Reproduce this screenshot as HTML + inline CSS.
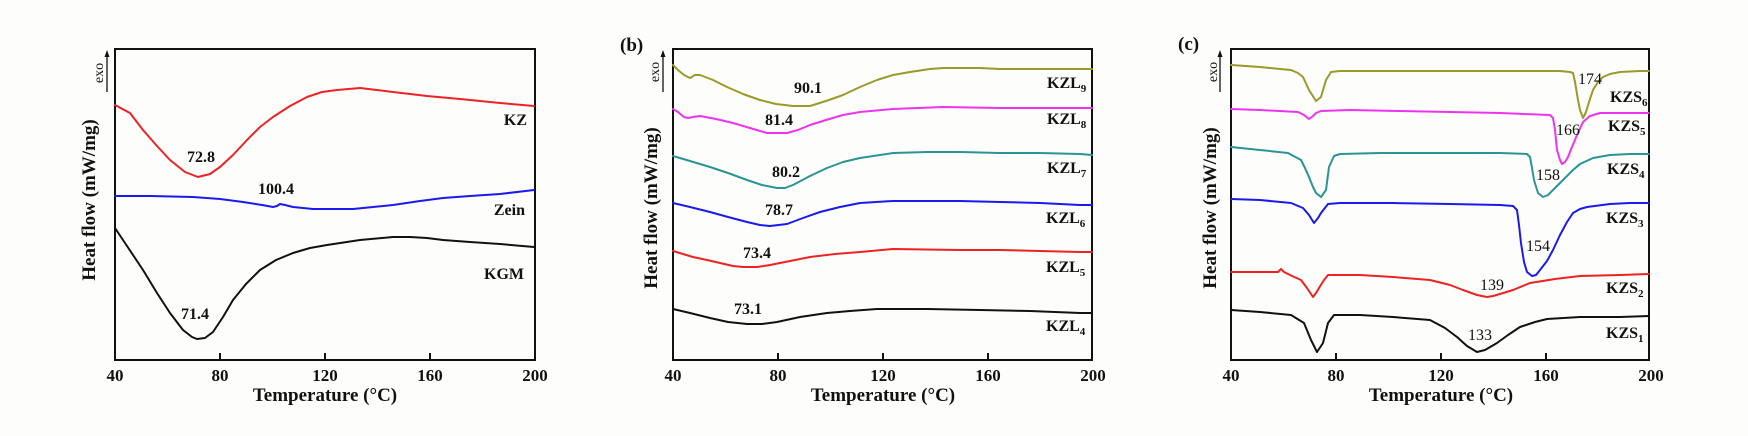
<!DOCTYPE html>
<html><head><meta charset="utf-8"><style>
html,body{margin:0;padding:0;background:#fdfdfc;}
svg{display:block;}
text{font-family:"Liberation Serif",serif;fill:#111;}
.b{font-weight:bold;}
.tk{font-size:17px;font-weight:bold;text-anchor:middle;}
.ax{font-size:19px;font-weight:bold;text-anchor:middle;}
.lb{font-size:16px;font-weight:bold;}
.nm{font-size:16px;font-weight:bold;text-anchor:middle;}
.nc{font-size:16px;text-anchor:middle;}
.exo{font-size:14px;text-anchor:middle;}
.c{fill:none;stroke-width:2;stroke-linejoin:round;stroke-linecap:round;}
.box{fill:none;stroke:#111;stroke-width:2;}
</style></head><body>
<svg width="1748" height="436" viewBox="0 0 1748 436" xmlns="http://www.w3.org/2000/svg">
<rect width="1748" height="436" fill="#fdfdfc"/>

<!-- ===== Panel a ===== -->
<rect class="box" x="115" y="49" width="420" height="311"/>
<g stroke="#111" stroke-width="2">
<line x1="220" y1="360" x2="220" y2="353"/><line x1="325" y1="360" x2="325" y2="353"/><line x1="430" y1="360" x2="430" y2="353"/>
</g>
<text class="tk" x="115" y="381">40</text><text class="tk" x="220" y="381">80</text><text class="tk" x="325" y="381">120</text><text class="tk" x="430" y="381">160</text><text class="tk" x="535" y="381">200</text>
<text class="ax" x="325" y="401">Temperature (°C)</text>
<text class="ax" transform="translate(95,200) rotate(-90)">Heat flow (mW/mg)</text>
<text class="exo" transform="translate(103,73) rotate(-90)">exo</text>
<line x1="107" y1="92" x2="107" y2="55" stroke="#111" stroke-width="1.3"/>
<polygon points="107,50 104.5,57 109.5,57" fill="#111"/>

<polyline class="c" stroke="#ee2222" points="115,105 130,113 143,130 157,146 170,160 185,172 198,177 210,174 220,167 233,155 247,140 260,127 273,117 290,106 307,97 322,92 337,90 360,88 377,90 393,92 427,96 460,99 500,103 534,106"/>
<polyline class="c" stroke="#1a1aee" points="115,196 150,196 193,197 220,199 243,202 262,205 273,207 277,206 280,204 285,205 293,207 313,209 353,209 373,207 393,205 420,201 443,198 470,196 500,194 534,190"/>
<polyline class="c" stroke="#111" points="115,228 129,249 143,270 157,293 170,313 183,330 192,337 197,339 205,338 213,332 223,317 233,300 246,284 260,270 276,260 293,253 310,248 327,245 360,240 393,237 410,237 427,238 443,240 470,242 500,244 534,247"/>
<text class="nm" x="201" y="162">72.8</text>
<text class="nm" x="276" y="194">100.4</text>
<text class="nm" x="195" y="319">71.4</text>
<text class="lb" x="527" y="125" text-anchor="end">KZ</text>
<text class="lb" x="525" y="215" text-anchor="end">Zein</text>
<text class="lb" x="524" y="279" text-anchor="end">KGM</text>

<!-- ===== Panel b ===== -->
<rect class="box" x="673" y="49" width="419" height="311"/>
<g stroke="#111" stroke-width="2">
<line x1="778" y1="360" x2="778" y2="353"/><line x1="883" y1="360" x2="883" y2="353"/><line x1="988" y1="360" x2="988" y2="353"/>
</g>
<text class="tk" x="673" y="381">40</text><text class="tk" x="778" y="381">80</text><text class="tk" x="883" y="381">120</text><text class="tk" x="988" y="381">160</text><text class="tk" x="1093" y="381">200</text>
<text class="ax" x="883" y="401">Temperature (°C)</text>
<text class="ax" transform="translate(657,208) rotate(-90)">Heat flow (mW/mg)</text>
<text class="exo" transform="translate(659,72) rotate(-90)">exo</text>
<line x1="663" y1="92" x2="663" y2="55" stroke="#111" stroke-width="1.3"/>
<polygon points="663,50 660.5,57 665.5,57" fill="#111"/>
<text class="b" x="620" y="51" font-size="19">(b)</text>

<polyline class="c" stroke="#9a9a2a" points="673,65 678,70 684,75 690,78 695,75 700,75 713,80 727,87 743,94 760,100 776,104 793,106 810,106 826,101 843,95 860,87 877,80 893,75 910,72 930,69 943,68 980,68 1000,69 1040,69 1080,69 1092,69"/>
<polyline class="c" stroke="#ee33ee" points="673,109 678,112 684,117 688,118 693,117 700,116 716,119 733,123 750,128 767,133 787,133 798,130 810,125 826,120 843,115 860,112 893,109 943,107 1000,108 1050,108 1092,108"/>
<polyline class="c" stroke="#2a9494" points="673,156 690,161 710,167 728,173 747,180 762,185 777,188 785,188 793,185 810,176 827,168 843,162 860,158 893,153 927,152 960,152 1000,153 1040,153 1080,154 1092,155"/>
<polyline class="c" stroke="#1a1aee" points="673,203 690,207 710,212 728,217 747,222 760,225 770,226 787,224 803,218 820,212 840,207 860,203 893,201 960,201 1000,202 1040,203 1080,205 1092,205"/>
<polyline class="c" stroke="#ee2222" points="673,251 683,254 693,257 707,260 720,263 733,266 743,267 757,267 770,265 790,261 810,257 835,254 860,252 893,249 960,250 1000,250 1040,251 1080,252 1092,252"/>
<polyline class="c" stroke="#111" points="673,309 690,313 710,318 728,322 747,324 762,324 777,322 800,317 827,313 850,311 877,309 927,309 980,310 1030,311 1080,313 1092,313"/>
<text class="nm" x="808" y="93">90.1</text>
<text class="nm" x="779" y="125">81.4</text>
<text class="nm" x="786" y="177">80.2</text>
<text class="nm" x="779" y="215">78.7</text>
<text class="nm" x="757" y="258">73.4</text>
<text class="nm" x="748" y="314">73.1</text>
<text class="lb" x="1047" y="88">KZL<tspan font-size="11" dy="4">9</tspan></text>
<text class="lb" x="1047" y="124">KZL<tspan font-size="11" dy="4">8</tspan></text>
<text class="lb" x="1047" y="173">KZL<tspan font-size="11" dy="4">7</tspan></text>
<text class="lb" x="1046" y="223">KZL<tspan font-size="11" dy="4">6</tspan></text>
<text class="lb" x="1046" y="272">KZL<tspan font-size="11" dy="4">5</tspan></text>
<text class="lb" x="1046" y="331">KZL<tspan font-size="11" dy="4">4</tspan></text>

<!-- ===== Panel c ===== -->
<rect class="box" x="1231" y="49" width="418" height="311"/>
<g stroke="#111" stroke-width="2">
<line x1="1336" y1="360" x2="1336" y2="353"/><line x1="1441" y1="360" x2="1441" y2="353"/><line x1="1546" y1="360" x2="1546" y2="353"/>
</g>
<text class="tk" x="1231" y="381">40</text><text class="tk" x="1336" y="381">80</text><text class="tk" x="1441" y="381">120</text><text class="tk" x="1546" y="381">160</text><text class="tk" x="1651" y="381">200</text>
<text class="ax" x="1441" y="401">Temperature (°C)</text>
<text class="ax" transform="translate(1216,208) rotate(-90)">Heat flow (mW/mg)</text>
<text class="exo" transform="translate(1217,72) rotate(-90)">exo</text>
<line x1="1220" y1="92" x2="1220" y2="55" stroke="#111" stroke-width="1.3"/>
<polygon points="1220,50 1217.5,57 1222.5,57" fill="#111"/>
<text class="b" x="1178" y="50" font-size="19">(c)</text>

<polyline class="c" stroke="#9a9a2a" points="1231,65 1260,67 1280,69 1291,70 1298,73 1303,77 1309,90 1316,101 1321,97 1326,80 1331,72 1340,71 1393,71 1450,71 1500,71 1540,71 1560,71 1570,72 1573,73 1575,82 1578,100 1580,110 1583,118 1586,112 1589,102 1593,90 1598,82 1603,77 1610,74 1620,72 1640,71 1649,71"/>
<polyline class="c" stroke="#ee33ee" points="1231,109 1260,110 1298,112 1304,115 1309,119 1313,116 1316,113 1321,111 1350,110 1400,111 1450,112 1500,113 1550,115 1553,118 1555,130 1557,150 1560,160 1562,164 1565,162 1568,157 1572,147 1577,135 1583,122 1590,116 1600,113 1620,113 1649,113"/>
<polyline class="c" stroke="#2a9494" points="1231,147 1260,150 1288,153 1301,160 1305,168 1309,177 1313,187 1316,193 1321,197 1326,190 1329,167 1334,156 1340,154 1381,153 1450,153 1500,153 1527,154 1530,157 1532,168 1534,180 1538,193 1543,197 1548,195 1553,190 1560,183 1567,176 1573,170 1580,164 1593,158 1610,155 1630,154 1649,154"/>
<polyline class="c" stroke="#1a1aee" points="1231,199 1260,200 1291,203 1303,208 1309,215 1314,223 1318,218 1321,213 1328,204 1340,203 1393,203 1450,204 1500,205 1513,206 1517,210 1519,225 1521,243 1524,262 1527,272 1532,276 1536,275 1540,270 1547,261 1553,250 1560,235 1567,222 1573,213 1580,209 1587,207 1610,204 1630,203 1649,203"/>
<polyline class="c" stroke="#ee2222" points="1231,272 1260,272 1278,272 1281,269 1284,272 1292,276 1301,280 1307,288 1313,297 1316,293 1319,288 1324,280 1328,275 1340,275 1360,275 1393,277 1430,280 1450,285 1463,290 1477,295 1487,297 1493,296 1500,294 1513,290 1530,283 1555,279 1580,276 1620,275 1649,274"/>
<polyline class="c" stroke="#111" points="1231,310 1260,312 1291,315 1304,323 1311,340 1317,352 1323,343 1328,323 1334,315 1360,315 1393,317 1430,320 1445,328 1457,337 1467,346 1477,352 1485,350 1497,343 1508,335 1520,327 1535,322 1547,319 1580,317 1620,317 1649,316"/>
<text class="nc" x="1590" y="84">174</text>
<text class="nc" x="1568" y="135">166</text>
<text class="nc" x="1548" y="180">158</text>
<text class="nc" x="1538" y="251">154</text>
<text class="nc" x="1492" y="290">139</text>
<text class="nc" x="1480" y="340">133</text>
<text class="lb" x="1610" y="102">KZS<tspan font-size="11" dy="4">6</tspan></text>
<text class="lb" x="1608" y="131">KZS<tspan font-size="11" dy="4">5</tspan></text>
<text class="lb" x="1607" y="174">KZS<tspan font-size="11" dy="4">4</tspan></text>
<text class="lb" x="1606" y="223">KZS<tspan font-size="11" dy="4">3</tspan></text>
<text class="lb" x="1606" y="293">KZS<tspan font-size="11" dy="4">2</tspan></text>
<text class="lb" x="1606" y="338">KZS<tspan font-size="11" dy="4">1</tspan></text>
</svg>
</body></html>
